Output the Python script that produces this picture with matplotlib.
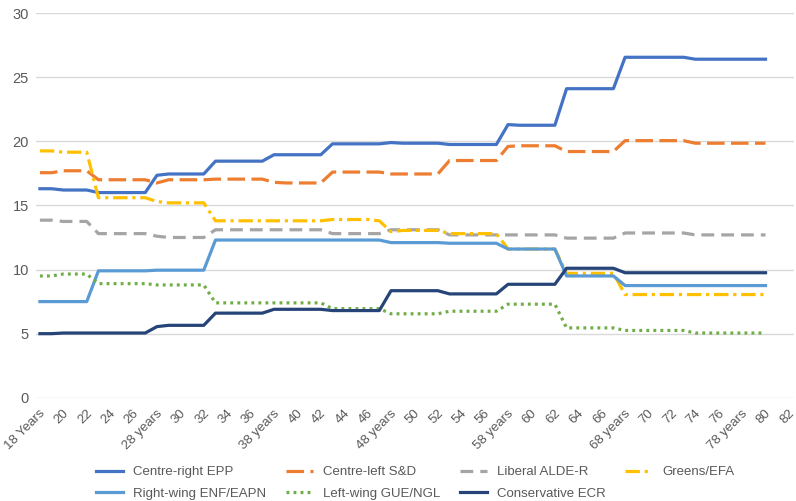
import matplotlib
matplotlib.use("Agg")
import matplotlib.pyplot as plt
from matplotlib.transforms import ScaledTranslation

plt.rcParams['font.family'] = ['Liberation Sans', 'DejaVu Sans']

# ages 18..80, one value per year
ages = list(range(18, 81))

epp = [16.3, 16.3, 16.2, 16.2, 16.2,
       16.0, 16.0, 16.0, 16.0, 16.0,
       17.35, 17.45, 17.45, 17.45, 17.45,
       18.45, 18.45, 18.45, 18.45, 18.45,
       18.95, 18.95, 18.95, 18.95, 18.95,
       19.8, 19.8, 19.8, 19.8, 19.8,
       19.9, 19.85, 19.85, 19.85, 19.85,
       19.75, 19.75, 19.75, 19.75, 19.75,
       21.3, 21.25, 21.25, 21.25, 21.25,
       24.1, 24.1, 24.1, 24.1, 24.1,
       26.55, 26.55, 26.55, 26.55, 26.55, 26.55,
       26.4, 26.4, 26.4, 26.4, 26.4, 26.4, 26.4]

snd = [17.55, 17.55, 17.7, 17.7, 17.7,
       17.0, 17.0, 17.0, 17.0, 17.0,
       16.75, 17.0, 17.0, 17.0, 17.0,
       17.05, 17.05, 17.05, 17.05, 17.05,
       16.8, 16.75, 16.75, 16.75, 16.75,
       17.6, 17.6, 17.6, 17.6, 17.6,
       17.45, 17.45, 17.45, 17.45, 17.45,
       18.5, 18.5, 18.5, 18.5, 18.5,
       19.6, 19.65, 19.65, 19.65, 19.65,
       19.2, 19.2, 19.2, 19.2, 19.2,
       20.05, 20.05, 20.05, 20.05, 20.05, 20.05,
       19.85, 19.85, 19.85, 19.85, 19.85, 19.85, 19.85]

alde = [13.85, 13.85, 13.75, 13.75, 13.75,
        12.8, 12.8, 12.8, 12.8, 12.8,
        12.6, 12.5, 12.5, 12.5, 12.5,
        13.1, 13.1, 13.1, 13.1, 13.1,
        13.1, 13.1, 13.1, 13.1, 13.1,
        12.8, 12.8, 12.8, 12.8, 12.8,
        13.1, 13.1, 13.1, 13.1, 13.1,
        12.7, 12.7, 12.7, 12.7, 12.7,
        12.7, 12.7, 12.7, 12.7, 12.7,
        12.45, 12.45, 12.45, 12.45, 12.45,
        12.85, 12.85, 12.85, 12.85, 12.85, 12.85,
        12.7, 12.7, 12.7, 12.7, 12.7, 12.7, 12.7]

greens = [19.25, 19.25, 19.15, 19.15, 19.15,
          15.6, 15.6, 15.6, 15.6, 15.6,
          15.3, 15.2, 15.2, 15.2, 15.2,
          13.8, 13.8, 13.8, 13.8, 13.8,
          13.8, 13.8, 13.8, 13.8, 13.8,
          13.9, 13.9, 13.9, 13.9, 13.8,
          12.95, 13.05, 13.05, 13.05, 13.05,
          12.8, 12.8, 12.8, 12.8, 12.8,
          11.6, 11.6, 11.6, 11.6, 11.6,
          9.7, 9.7, 9.7, 9.7, 9.7,
          8.05, 8.05, 8.05, 8.05, 8.05, 8.05,
          8.05, 8.05, 8.05, 8.05, 8.05, 8.05, 8.05]

enf = [7.5, 7.5, 7.5, 7.5, 7.5,
       9.9, 9.9, 9.9, 9.9, 9.9,
       9.95, 9.95, 9.95, 9.95, 9.95,
       12.3, 12.3, 12.3, 12.3, 12.3,
       12.3, 12.3, 12.3, 12.3, 12.3,
       12.3, 12.3, 12.3, 12.3, 12.3,
       12.1, 12.1, 12.1, 12.1, 12.1,
       12.05, 12.05, 12.05, 12.05, 12.05,
       11.6, 11.6, 11.6, 11.6, 11.6,
       9.5, 9.5, 9.5, 9.5, 9.5,
       8.75, 8.75, 8.75, 8.75, 8.75, 8.75,
       8.75, 8.75, 8.75, 8.75, 8.75, 8.75, 8.75]

gue = [9.5, 9.5, 9.65, 9.65, 9.65,
       8.9, 8.9, 8.9, 8.9, 8.9,
       8.8, 8.8, 8.8, 8.8, 8.8,
       7.4, 7.4, 7.4, 7.4, 7.4,
       7.4, 7.4, 7.4, 7.4, 7.4,
       6.95, 6.95, 6.95, 6.95, 6.95,
       6.55, 6.55, 6.55, 6.55, 6.55,
       6.75, 6.75, 6.75, 6.75, 6.75,
       7.3, 7.3, 7.3, 7.3, 7.3,
       5.45, 5.45, 5.45, 5.45, 5.45,
       5.25, 5.25, 5.25, 5.25, 5.25, 5.25,
       5.05, 5.05, 5.05, 5.05, 5.05, 5.05, 5.05]

ecr = [5.0, 5.0, 5.05, 5.05, 5.05,
       5.05, 5.05, 5.05, 5.05, 5.05,
       5.55, 5.65, 5.65, 5.65, 5.65,
       6.6, 6.6, 6.6, 6.6, 6.6,
       6.9, 6.9, 6.9, 6.9, 6.9,
       6.8, 6.8, 6.8, 6.8, 6.8,
       8.35, 8.35, 8.35, 8.35, 8.35,
       8.1, 8.1, 8.1, 8.1, 8.1,
       8.85, 8.85, 8.85, 8.85, 8.85,
       10.1, 10.1, 10.1, 10.1, 10.1,
       9.75, 9.75, 9.75, 9.75, 9.75, 9.75,
       9.75, 9.75, 9.75, 9.75, 9.75, 9.75, 9.75]

tick_ages = list(range(18, 83, 2))
tick_labels = [f"{a} years" if (a - 18) % 10 == 0 else str(a) for a in tick_ages]
tick_labels[0] = "18 Years"

fig = plt.figure(figsize=(7.96, 5.01), dpi=100)
ax = fig.add_axes([0.045, 0.206, 0.952, 0.768])

lw = 2.3
l_epp, = ax.plot(ages, epp, color="#4472C4", lw=lw, label="Centre-right EPP")
l_snd, = ax.plot(ages, snd, color="#ED7D31", lw=lw, dashes=(5.5, 2.0), label="Centre-left S&D")
l_alde, = ax.plot(ages, alde, color="#A5A5A5", lw=lw, dashes=(4.0, 2.2), label="Liberal ALDE-R")
l_gr, = ax.plot(ages, greens, color="#FFC000", lw=lw, dashes=(4.5, 1.5, 1.0, 1.5), label="Greens/EFA")
l_enf, = ax.plot(ages, enf, color="#5B9BD5", lw=lw, label="Right-wing ENF/EAPN")
l_gue, = ax.plot(ages, gue, color="#70AD47", lw=lw, dashes=(0.9, 1.3), label="Left-wing GUE/NGL")
l_ecr, = ax.plot(ages, ecr, color="#264478", lw=lw, label="Conservative ECR")

ax.set_xlim(17.65, 82.4)
ax.set_ylim(0, 30)
ax.set_yticks(range(0, 31, 5))
ax.grid(axis="y", color="#D9D9D9", lw=1)
ax.set_axisbelow(True)
for s in ax.spines.values():
    s.set_visible(False)
ax.tick_params(axis="both", length=0, colors="#595959", labelsize=10.5)
ax.tick_params(axis="y", pad=5)
ax.set_xticks(tick_ages)
ax.set_xticklabels(tick_labels, rotation=45, ha="right", rotation_mode="anchor", fontsize=9.5)
# nudge rotated labels down a little, like the source
offset = ScaledTranslation(-0.5 / 72, -3.5 / 72, fig.dpi_scale_trans)
for lab in ax.get_xticklabels():
    lab.set_transform(lab.get_transform() + offset)

handles = [l_epp, l_enf, l_snd, l_gue, l_alde, l_ecr, l_gr]
leg = fig.legend(handles=handles, labels=[h.get_label() for h in handles],
                 loc="upper left", bbox_to_anchor=(0.112, 0.083), ncol=4,
                 frameon=False, fontsize=9.5, handlelength=2.05, handletextpad=0.75,
                 columnspacing=1.5, labelspacing=0.7, borderpad=0)
for t in leg.get_texts():
    t.set_color("#595959")

fig.savefig("out.png", dpi=100)
